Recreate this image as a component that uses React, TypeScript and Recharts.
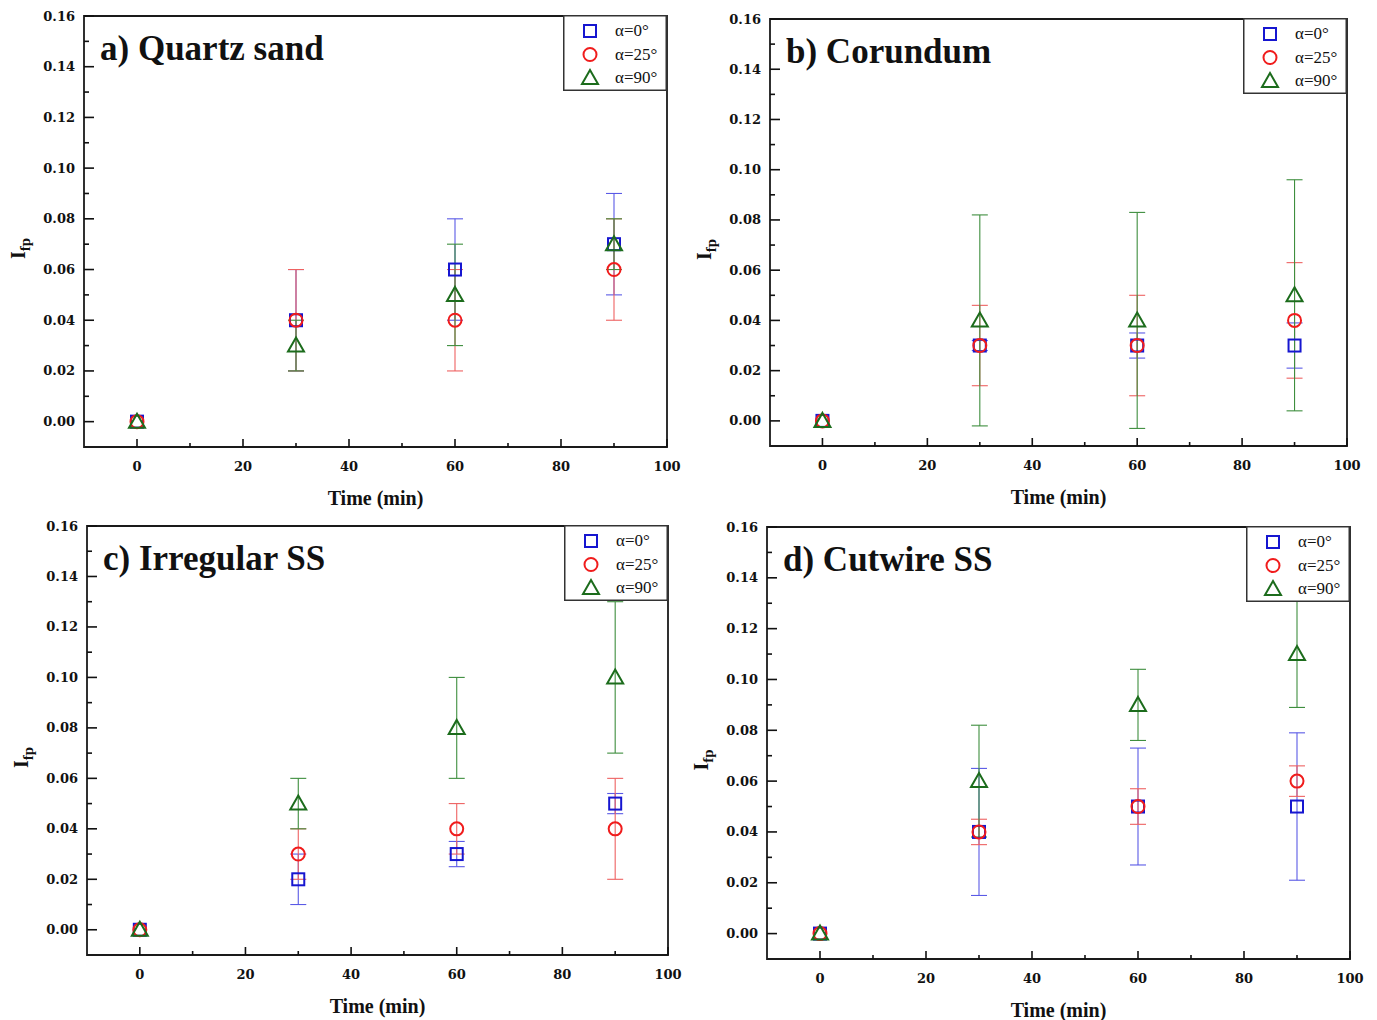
import React from 'react';
import {
  ScatterChart,
  Scatter,
  XAxis,
  YAxis,
  ErrorBar,
  ReferenceArea,
  Legend,
} from 'recharts';

// shared axes
const times = [0, 30, 60, 90];
const xTicks = [0, 10, 20, 30, 40, 50, 60, 70, 80, 90, 100];
const yTicks = [
  0, 0.01, 0.02, 0.03, 0.04, 0.05, 0.06, 0.07, 0.08, 0.09, 0.1, 0.11, 0.12,
  0.13, 0.14, 0.15, 0.16,
];
const seriesNames = ['α=0°', 'α=25°', 'α=90°'];

// a) Quartz sand
const quartz0 = [0, 0.04, 0.06, 0.07];
const quartz0Err = [0, 0.02, 0.02, 0.02];
const quartz25 = [0, 0.04, 0.04, 0.06];
const quartz25Err = [0, 0.02, 0.02, 0.02];
const quartz90 = [0, 0.03, 0.05, 0.07];
const quartz90Err = [0, 0.01, 0.02, 0.01];

// b) Corundum
const corundum0 = [0, 0.03, 0.03, 0.03];
const corundum0Err = [0, 0.002, 0.005, 0.009];
const corundum25 = [0, 0.03, 0.03, 0.04];
const corundum25Err = [0, 0.016, 0.02, 0.023];
const corundum90 = [0, 0.04, 0.04, 0.05];
const corundum90Err = [0, 0.042, 0.043, 0.046];

// c) Irregular SS
const irregular0 = [0, 0.02, 0.03, 0.05];
const irregular0Err = [0, 0.01, 0.005, 0.004];
const irregular25 = [0, 0.03, 0.04, 0.04];
const irregular25Err = [0, 0.01, 0.01, 0.02];
const irregular90 = [0, 0.05, 0.08, 0.1];
const irregular90Err = [0, 0.01, 0.02, 0.03];

// d) Cutwire SS
const cutwire0 = [0, 0.04, 0.05, 0.05];
const cutwire0Err = [0, 0.025, 0.023, 0.029];
const cutwire25 = [0, 0.04, 0.05, 0.06];
const cutwire25Err = [0, 0.005, 0.007, 0.006];
const cutwire90 = [0, 0.06, 0.09, 0.11];
const cutwire90Err = [0, 0.022, 0.014, 0.021];

const BLUE = '#1616d0';
const RED = '#f01c1c';
const GREEN = '#1c6c1c';
const markColors = [BLUE, RED, GREEN];
const errColors = ['#5a5ae6', '#ee6262', '#3e8e3e'];

const SERIF = '"Liberation Serif", "Times New Roman", serif';
const TICKFONT = '"DejaVu Serif", serif';

const toPoints = (vals: number[], errs: number[]) =>
  times.map((t, i) => ({ t, v: vals[i], e: errs[i] }));

const Mark = ({ kind, cx, cy }: { kind: number; cx: number; cy: number }) => {
  if (kind === 0)
    return (
      <rect x={cx - 6} y={cy - 6} width={12} height={12} fill='none' stroke={BLUE} strokeWidth={2} />
    );
  if (kind === 1)
    return <circle cx={cx} cy={cy} r={6.5} fill='none' stroke={RED} strokeWidth={2} />;
  return (
    <path
      d={`M${cx},${cy - 8} L${cx + 8},${cy + 6} L${cx - 8},${cy + 6} Z`}
      fill='none'
      stroke={GREEN}
      strokeWidth={2}
    />
  );
};

const YTick = (props: any) => {
  const { x, y, payload } = props;
  const v = payload.value as number;
  const major = Math.round(v * 100) % 2 === 0;
  return (
    <g>
      <line x1={x} y1={y} x2={x + (major ? 10 : 5)} y2={y} stroke='#111' strokeWidth={1.6} />
      {major && (
        <text x={x - 9} y={y + 4.5} textAnchor='end' fontFamily={TICKFONT} fontWeight='bold' fontSize={13} fill='#111'>
          {v.toFixed(2)}
        </text>
      )}
    </g>
  );
};

const XTick = (props: any) => {
  const { x, y, payload } = props;
  const v = payload.value as number;
  const major = v % 20 === 0;
  return (
    <g>
      <line x1={x} y1={y} x2={x} y2={y - (major ? 8 : 4)} stroke='#111' strokeWidth={1.6} />
      {major && (
        <text x={x} y={y + 24} textAnchor='middle' fontFamily={TICKFONT} fontWeight='bold' fontSize={13} fill='#111'>
          {v}
        </text>
      )}
    </g>
  );
};

const LegendBox = () => (
  <svg width={104} height={76} style={{ display: 'block' }}>
    <rect x={0.75} y={0.75} width={102.5} height={74.5} fill='#fff' stroke='#333' strokeWidth={1.5} />
    {seriesNames.map((n, i) => {
      const cy = 16 + i * 23.5;
      return (
        <g key={n}>
          <Mark kind={i} cx={27} cy={cy} />
          <text x={52} y={cy + 5} fontFamily={SERIF} fontSize={17} fill='#111'>
            {n}
          </text>
        </g>
      );
    })}
  </svg>
);

type PanelProps = {
  frame: { x0: number; y0: number; x1: number; y1: number };
  title: string;
  series: { vals: number[]; errs: number[] }[];
};

const M = { top: 12, right: 14, left: 24, bottom: 30 };
const YW = 60;
const XH = 40;

function Panel({ frame, title, series }: PanelProps) {
  const width = frame.x1 - frame.x0 + M.left + YW + M.right;
  const height = frame.y1 - frame.y0 + M.top + XH + M.bottom;
  return (
    <div style={{ position: 'absolute', left: frame.x0 - M.left - YW, top: frame.y0 - M.top }}>
      <ScatterChart width={width} height={height} margin={M}>
        <XAxis
          type='number'
          dataKey='t'
          domain={[-10, 100]}
          ticks={xTicks}
          interval={0}
          allowDataOverflow
          tick={<XTick />}
          tickLine={false}
          axisLine={false}
          tickSize={0}
          tickMargin={0}
          height={XH}
          label={(p: any) => (
            <text
              x={p.viewBox.x + p.viewBox.width / 2}
              y={p.viewBox.y + 58}
              textAnchor='middle'
              fontFamily={SERIF}
              fontWeight='bold'
              fontSize={20}
              fill='#111'
            >
              Time (min)
            </text>
          )}
        />
        <YAxis
          type='number'
          dataKey='v'
          domain={[-0.01, 0.16]}
          ticks={yTicks}
          interval={0}
          allowDataOverflow
          tick={<YTick />}
          tickLine={false}
          axisLine={false}
          tickSize={0}
          tickMargin={0}
          width={YW}
          label={(p: any) => {
            const cx = p.viewBox.x + 1;
            const cy = p.viewBox.y + p.viewBox.height / 2 + 17;
            return (
              <text
                x={cx}
                y={cy}
                transform={`rotate(-90, ${cx}, ${cy})`}
                textAnchor='middle'
                fontFamily={SERIF}
                fontWeight='bold'
                fontSize={20}
                fill='#111'
              >
                <tspan>I</tspan>
                <tspan dy={5} fontSize={15}>
                  fp
                </tspan>
              </text>
            );
          }}
        />
        <ReferenceArea
          x1={-10}
          x2={100}
          y1={-0.01}
          y2={0.16}
          fill='none'
          stroke='#1a1a1a'
          strokeWidth={1.8}
          label={(p: any) => (
            <text
              x={p.viewBox.x + 16}
              y={p.viewBox.y + 44}
              fontFamily={SERIF}
              fontWeight='bold'
              fontSize={35}
              fill='#111'
            >
              {title}
            </text>
          )}
        />
        {series.map((s, i) => (
          <Scatter
            key={seriesNames[i]}
            name={seriesNames[i]}
            data={toPoints(s.vals, s.errs)}
            fill={markColors[i]}
            isAnimationActive={false}
            shape={(p: any) => <Mark kind={i} cx={p.cx} cy={p.cy} />}
          >
            <ErrorBar dataKey='e' direction='y' width={8} stroke={errColors[i]} strokeWidth={1.1} />
          </Scatter>
        ))}
        <Legend
          layout='vertical'
          align='center'
          verticalAlign='middle'
          wrapperStyle={{
            left: width - M.right - 104,
            top: M.top - 1,
            width: 104,
            height: 76,
          }}
          content={() => <LegendBox />}
        />
      </ScatterChart>
    </div>
  );
}

export default function App() {
  return (
    <div
      style={{
        position: 'absolute',
        left: 0,
        top: 0,
        width: 1377,
        height: 1020,
        background: '#fff',
        overflow: 'hidden',
      }}
    >
      <Panel
        frame={{ x0: 84, y0: 16, x1: 667, y1: 447 }}
        title='a) Quartz sand'
        series={[
          { vals: quartz0, errs: quartz0Err },
          { vals: quartz25, errs: quartz25Err },
          { vals: quartz90, errs: quartz90Err },
        ]}
      />
      <Panel
        frame={{ x0: 770, y0: 19, x1: 1347, y1: 446 }}
        title='b) Corundum'
        series={[
          { vals: corundum0, errs: corundum0Err },
          { vals: corundum25, errs: corundum25Err },
          { vals: corundum90, errs: corundum90Err },
        ]}
      />
      <Panel
        frame={{ x0: 87, y0: 526, x1: 668, y1: 955 }}
        title='c) Irregular SS'
        series={[
          { vals: irregular0, errs: irregular0Err },
          { vals: irregular25, errs: irregular25Err },
          { vals: irregular90, errs: irregular90Err },
        ]}
      />
      <Panel
        frame={{ x0: 767, y0: 527, x1: 1350, y1: 959 }}
        title='d) Cutwire SS'
        series={[
          { vals: cutwire0, errs: cutwire0Err },
          { vals: cutwire25, errs: cutwire25Err },
          { vals: cutwire90, errs: cutwire90Err },
        ]}
      />
    </div>
  );
}
